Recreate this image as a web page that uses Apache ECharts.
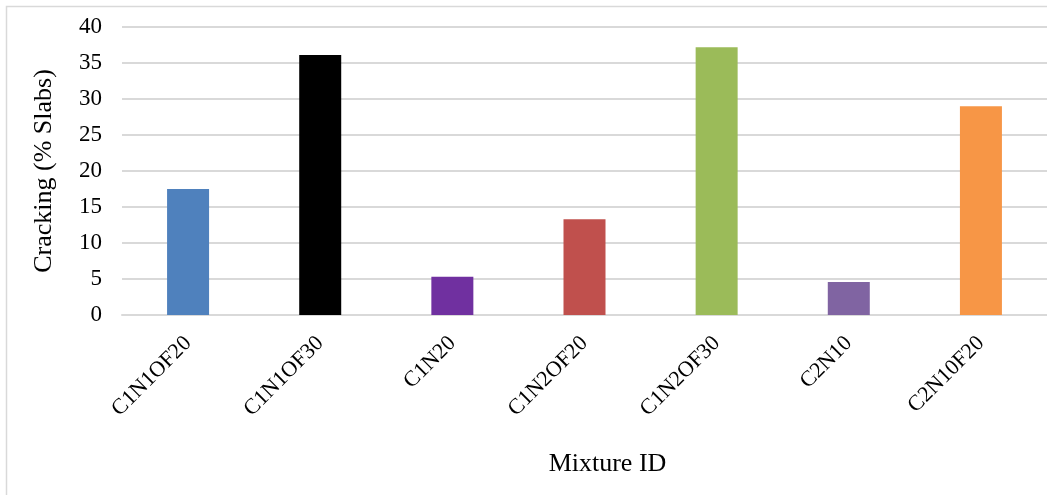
<!DOCTYPE html>
<html>
<head>
<meta charset="utf-8">
<script src="https://cdn.jsdelivr.net/npm/echarts@6/dist/echarts.min.js"></script>
<style>
  html, body { margin: 0; padding: 0; background: #ffffff; }
  #chart { width: 1047px; height: 495px; }
</style>
</head>
<body>
<div id="chart"></div>
<script>
// Mixture IDs and measured slab cracking
const mixtures = ['C1N1OF20', 'C1N1OF30', 'C1N20', 'C1N2OF20', 'C1N2OF30', 'C2N10', 'C2N10F20'];
const crackingPct = [17.5, 36.1, 5.3, 13.3, 37.2, 4.6, 29.0];
const barColors = ['#4f81bd', '#000000', '#7030a0', '#c0504d', '#9bbb59', '#8064a2', '#f79646'];
const yTicks = { min: 0, max: 40, interval: 5 };

const serif = '"Liberation Serif", "Times New Roman", serif';
const chart = echarts.init(document.getElementById('chart'), null, { renderer: 'canvas' });

chart.setOption({
  backgroundColor: '#ffffff',
  animation: false,
  graphic: [{
    type: 'rect',
    shape: { x: 6.5, y: 6.5, width: 1100, height: 600 },
    style: { fill: 'none', stroke: '#d9d9d9', lineWidth: 1.5 },
    silent: true
  }],
  grid: { left: 122, right: 0, top: 27, bottom: 180 },
  xAxis: {
    type: 'category',
    data: mixtures,
    name: 'Mixture ID',
    nameLocation: 'middle',
    nameGap: 136,
    nameTextStyle: { fontFamily: serif, fontSize: 26, color: '#000', padding: [0, 0, 0, 46] },
    axisLine: { lineStyle: { color: '#d9d9d9', width: 2 } },
    axisTick: { show: false },
    axisLabel: { interval: 0, rotate: 45, margin: 25, fontFamily: serif, fontSize: 22, color: '#000' }
  },
  yAxis: {
    type: 'value',
    min: yTicks.min,
    max: yTicks.max,
    interval: yTicks.interval,
    name: 'Cracking (% Slabs)',
    nameLocation: 'middle',
    nameGap: 65,
    nameTextStyle: { fontFamily: serif, fontSize: 26, color: '#000' },
    axisLine: { show: false },
    axisTick: { show: false },
    axisLabel: { margin: 20, fontFamily: serif, fontSize: 23, color: '#000' },
    splitLine: { lineStyle: { color: '#d9d9d9', width: 2 } }
  },
  series: [{
    type: 'bar',
    barWidth: 42,
    data: crackingPct.map((v, i) => ({ value: v, itemStyle: { color: barColors[i] } }))
  }]
});
</script>
</body>
</html>
